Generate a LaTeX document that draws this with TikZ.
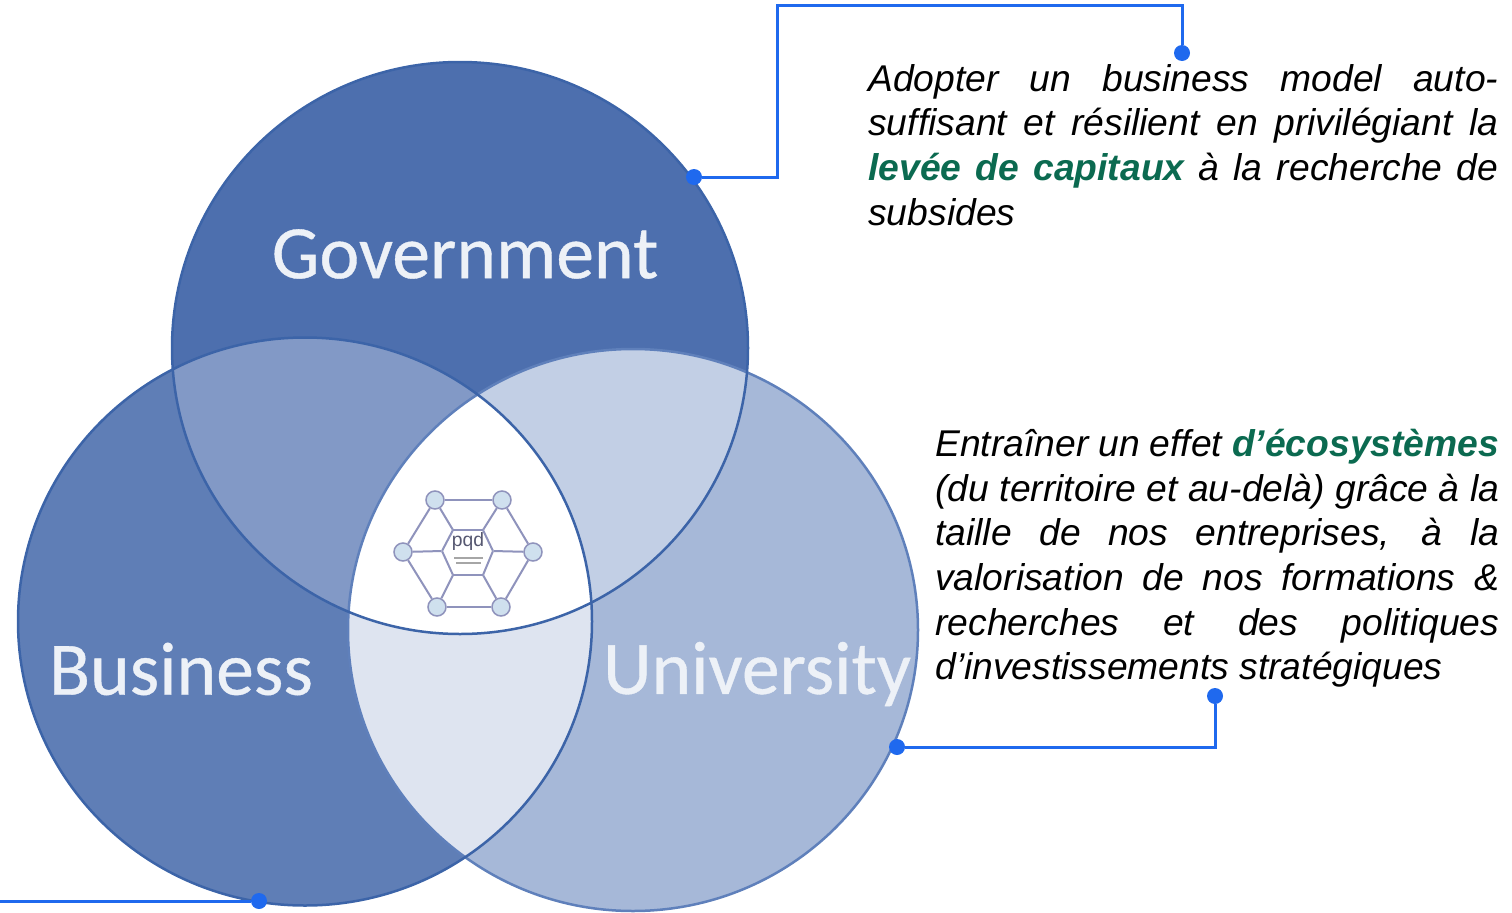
\documentclass[tikz,border=0pt]{standalone}
\usepackage{fontspec}
\setmainfont{Liberation Sans}
\newfontfamily\labelfont[FakeBold=0.5]{Carlito}
\usepackage{xcolor}

\definecolor{govblue}{HTML}{4D6FAE}
\definecolor{busblue}{HTML}{5F7EB6}
\definecolor{unilight}{HTML}{A6B8D8}
\definecolor{govbus}{HTML}{8299C6}
\definecolor{govuni}{HTML}{C2CFE5}
\definecolor{busuni}{HTML}{DEE4F0}
\definecolor{rimblue}{HTML}{3C64A8}
\definecolor{rimlight}{HTML}{5F80BB}
\definecolor{wireblue}{HTML}{1F69EE}
\definecolor{keygreen}{HTML}{0B6A50}
\definecolor{hexline}{HTML}{8F93BC}
\definecolor{hexfill}{HTML}{CFE0EE}

\begin{document}
\begin{tikzpicture}[x=0.02cm, y=-0.02cm,
    sector/.style = {font=\labelfont\fontsize{43}{50}\selectfont, text=white!90!govblue, inner sep=0},
    callout/.style = {anchor=north west, inner sep=0, align=justify, font=\fontsize{21.2}{25.4}\selectfont\itshape},
    wire/.style = {draw=wireblue, line width=0.06cm},
    pin/.style = {circle, fill=wireblue, inner sep=0, minimum size=0.32cm},
    hexpt/.style = {circle, draw=hexline, fill=hexfill, line width=0.03cm, inner sep=0, minimum size=0.36cm},
    hexin/.style = {inner sep=0, minimum size=0},
    hexedge/.style = {draw=hexline, line width=0.04cm}]
    \useasboundingbox (0,0) rectangle (1512,913);

    % the three circles
    \coordinate (G) at (460,348);
    \coordinate (B) at (305,621.5);
    \coordinate (U) at (633,630);
    \fill[govblue] (G) ellipse [x radius=288, y radius=286];
    \fill[busblue] (B) ellipse [x radius=287, y radius=284];
    \fill[unilight] (U) ellipse [x radius=285, y radius=281];

    % overlaps
    \begin{scope}
        \clip (G) ellipse [x radius=288, y radius=286];
        \fill[govbus] (B) ellipse [x radius=287, y radius=284];
        \fill[govuni] (U) ellipse [x radius=285, y radius=281];
    \end{scope}
    \begin{scope}
        \clip (B) ellipse [x radius=287, y radius=284];
        \fill[busuni] (U) ellipse [x radius=285, y radius=281];
        \clip (U) ellipse [x radius=285, y radius=281];
        \fill[white] (G) ellipse [x radius=288, y radius=286];
    \end{scope}

    \draw[rimlight, line width=0.05cm] (U) ellipse [x radius=285, y radius=281];
    \draw[rimblue, line width=0.05cm] (G) ellipse [x radius=288, y radius=286];
    \draw[rimblue, line width=0.05cm] (B) ellipse [x radius=287, y radius=284];

    \node[sector] (gov) at (465,254) {Government};
    \node[sector] (bus) at (181,669) {Business};
    \node[sector] (uni) at (757,674) {University};

    % logo
    \node[hexin] (c1) at (453,530) {};
    \node[hexin] (c2) at (483,530) {};
    \node[hexin] (c3) at (493,551) {};
    \node[hexin] (c4) at (483,575) {};
    \node[hexin] (c5) at (453,575) {};
    \node[hexin] (c6) at (442,551) {};
    \foreach \i/\j in {c1/c2,c2/c3,c3/c4,c4/c5,c5/c6,c6/c1}
        \draw[hexedge] (\i) -- (\j);
    \node[hexpt] (p1) at (435,500) {};
    \node[hexpt] (p2) at (502,500) {};
    \node[hexpt] (p3) at (533,552) {};
    \node[hexpt] (p4) at (501,607) {};
    \node[hexpt] (p5) at (437,607) {};
    \node[hexpt] (p6) at (403,552) {};
    \foreach \i/\j in {p1/p2,p2/p3,p3/p4,p4/p5,p5/p6,p6/p1,p1/c1,p2/c2,p3/c3,p4/c4,p5/c5,p6/c6}
        \draw[hexedge] (\i) -- (\j);
    \node[inner sep=0, text=hexline!60!black, font=\fontsize{11}{11}\selectfont] (pqd) at (468,541) {pqd};
    \node[hexin] (s1) at (454,558) {};
    \node[hexin] (s2) at (483,558) {};
    \node[hexin] (s3) at (456,563) {};
    \node[hexin] (s4) at (481,563) {};
    \draw[hexedge, gray!70] (s1) -- (s2);
    \draw[hexedge, gray!70] (s3) -- (s4);

    % texts
    \node[callout, text width=12.6cm] (adopt) at (868,64) {Adopter un business model auto-\linebreak suffisant et résilient en privilégiant la\linebreak {\bfseries\color{keygreen}levée de capitaux} à la recherche de\linebreak subsides};
    \node[callout, text width=11.28cm] (effet) at (935,429) {Entraîner un effet {\bfseries\color{keygreen}d’écosystèmes}\linebreak (du territoire et au-delà) grâce à la\linebreak taille de nos entreprises, à la\linebreak valorisation de nos formations \&\linebreak recherches et des politiques\linebreak d’investissements stratégiques};

    % connectors
    \node[pin] (govpin) at (694,177) {};
    \node[pin] (adoptpin) at (1182,53) {};
    \coordinate (corner) at (777,5);
    \draw[wire] (govpin) -| (corner) -| (adoptpin);

    \node[pin] (unipin) at (897,747) {};
    \node[pin] (effetpin) at (1215,696) {};
    \draw[wire] (unipin) -| (effetpin);

    \node[pin] (buspin) at (259,901) {};
    \coordinate (edge) at (0,901);
    \draw[wire] (edge) -- (buspin);
\end{tikzpicture}
\end{document}
